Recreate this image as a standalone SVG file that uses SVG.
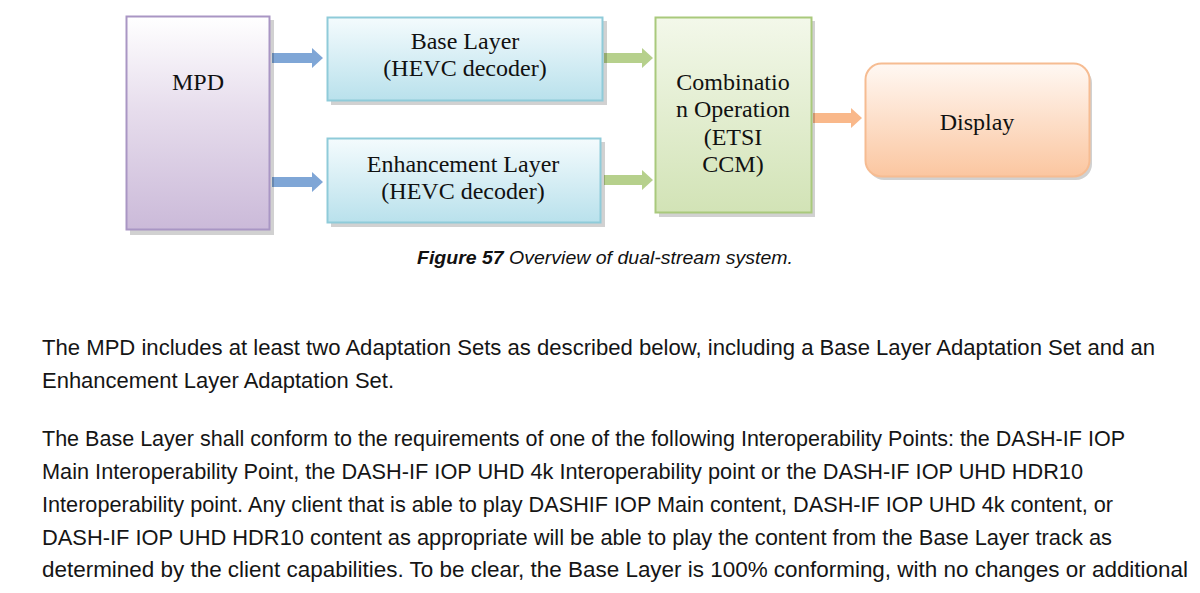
<svg xmlns="http://www.w3.org/2000/svg" width="1200" height="593" viewBox="0 0 1200 593">
<defs>
<linearGradient id="gPurple" x1="0" y1="0" x2="0" y2="1"><stop offset="0" stop-color="#ffffff"/><stop offset="0.45" stop-color="#e6dcec"/><stop offset="1" stop-color="#cbbad9"/></linearGradient>
<linearGradient id="gBlue" x1="0" y1="0" x2="0" y2="1"><stop offset="0" stop-color="#f4fbfd"/><stop offset="1" stop-color="#b9e1ec"/></linearGradient>
<linearGradient id="gGreen" x1="0" y1="0" x2="0" y2="1"><stop offset="0" stop-color="#f3f8ea"/><stop offset="1" stop-color="#d2e3b6"/></linearGradient>
<linearGradient id="gOrange" x1="0" y1="0" x2="0" y2="1"><stop offset="0" stop-color="#fff8f3"/><stop offset="1" stop-color="#fbc6a0"/></linearGradient>
<style>
.shadow{fill:#000;opacity:0.18}
.lbl{font-family:"Liberation Serif","Times New Roman",serif;font-size:24px;fill:#111;text-anchor:middle}
.body{font-family:"Liberation Sans",Arial,sans-serif;font-size:22px;fill:#151515}
.cap{font-family:"Liberation Sans",Arial,sans-serif;font-size:18px;fill:#111;font-style:italic}
</style>
</defs>
<rect width="1200" height="593" fill="#ffffff"/>

<g id="connectors">
<path d="M272,53 H312 V48 L323,58 L312,68 V63 H272 Z" fill="#7fa6d6"/>
<path d="M272,177 H312 V172 L323,182 L312,192 V187 H272 Z" fill="#7fa6d6"/>
<path d="M604,53 H642 V48 L653,58 L642,68 V63 H604 Z" fill="#b6d08c"/>
<path d="M604,175 H642 V170 L653,180 L642,190 V185 H604 Z" fill="#b6d08c"/>
<path d="M813,113 H851 V108 L862,118 L851,128 V123 H813 Z" fill="#f9b88a"/>
</g>

<g id="mpd">
<rect class="shadow" x="130" y="20" width="144" height="215"/>
<rect x="126.5" y="16.5" width="143" height="213" fill="url(#gPurple)" stroke="#a996c4" stroke-width="2"/>
<text class="lbl" x="198" y="90">MPD</text>
</g>

<g id="base">
<rect class="shadow" x="331" y="21" width="276" height="84"/>
<rect x="327.5" y="17.5" width="275" height="83" fill="url(#gBlue)" stroke="#8fcbd9" stroke-width="2"/>
<text class="lbl" x="465" y="49">Base Layer</text>
<text class="lbl" x="465" y="76">(HEVC decoder)</text>
</g>

<g id="enh">
<rect class="shadow" x="331" y="142" width="274" height="85"/>
<rect x="327.5" y="138.5" width="273" height="84" fill="url(#gBlue)" stroke="#8fcbd9" stroke-width="2"/>
<text class="lbl" x="463" y="172">Enhancement Layer</text>
<text class="lbl" x="463" y="199">(HEVC decoder)</text>
</g>

<g id="comb">
<rect class="shadow" x="659" y="21" width="156" height="196"/>
<rect x="655.5" y="17.5" width="156" height="195" fill="url(#gGreen)" stroke="#a9c97c" stroke-width="2"/>
<text class="lbl" x="733" y="90">Combinatio</text>
<text class="lbl" x="733" y="117">n Operation</text>
<text class="lbl" x="733" y="145">(ETSI</text>
<text class="lbl" x="733" y="172">CCM)</text>
</g>

<g id="display">
<rect class="shadow" x="868" y="67" width="224" height="113" rx="16"/>
<rect x="865.5" y="63.5" width="224" height="113" rx="16" fill="url(#gOrange)" stroke="#f6bc92" stroke-width="2"/>
<text class="lbl" x="977" y="130">Display</text>
</g>

<text class="cap" x="417" y="264" textLength="376" lengthAdjust="spacingAndGlyphs"><tspan font-weight="bold">Figure 57</tspan> Overview of dual-stream system.</text>

<g id="body">
<text class="body" x="42" y="355" textLength="1113" lengthAdjust="spacingAndGlyphs">The MPD includes at least two Adaptation Sets as described below, including a Base Layer Adaptation Set and an</text>
<text class="body" x="42" y="388" textLength="352" lengthAdjust="spacingAndGlyphs">Enhancement Layer Adaptation Set.</text>
<text class="body" x="42" y="446" textLength="1083" lengthAdjust="spacingAndGlyphs">The Base Layer shall conform to the requirements of one of the following Interoperability Points: the DASH-IF IOP</text>
<text class="body" x="42" y="479" textLength="1041" lengthAdjust="spacingAndGlyphs">Main Interoperability Point, the DASH-IF IOP UHD 4k Interoperability point or the DASH-IF IOP UHD HDR10</text>
<text class="body" x="42" y="512" textLength="1071" lengthAdjust="spacingAndGlyphs">Interoperability point. Any client that is able to play DASHIF IOP Main content, DASH-IF IOP UHD 4k content, or</text>
<text class="body" x="42" y="545" textLength="1070" lengthAdjust="spacingAndGlyphs">DASH-IF IOP UHD HDR10 content as appropriate will be able to play the content from the Base Layer track as</text>
<text class="body" x="42" y="577" textLength="1146" lengthAdjust="spacingAndGlyphs">determined by the client capabilities. To be clear, the Base Layer is 100% conforming, with no changes or additional</text>
</g>
</svg>
